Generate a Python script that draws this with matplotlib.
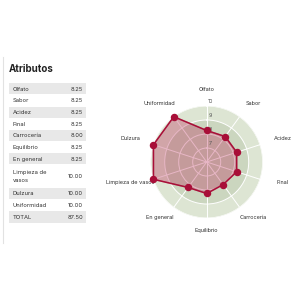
import numpy as np
import matplotlib.pyplot as plt
from matplotlib.patches import Rectangle

plt.rcParams['font.family'] = ['Inter', 'DejaVu Sans']

# Cupping scores (one per attribute, clockwise from the top of the radar)
attributes = ['Olfato', 'Sabor', 'Acidez', 'Final', 'Carrocería', 'Equilibrio',
              'En general', 'Limpieza de vasos', 'Dulzura', 'Uniformidad']
scores = [8.25, 8.25, 8.25, 8.25, 8.00, 8.25, 8.25, 10.00, 10.00, 10.00]

# Table on the left uses a wrapped label for one row
table_labels = ['Olfato', 'Sabor', 'Acidez', 'Final', 'Carrocería', 'Equilibrio',
                'En general', 'Limpieza de\nvasos', 'Dulzura', 'Uniformidad']
total_label = 'TOTAL'
total_score = 87.50

radial_ticks = [7, 8, 9, 10]
r_min, r_max = 6, 10

RED = '#a80f38'
TEXT = '#333333'

fig = plt.figure(figsize=(3, 3), dpi=100)

# ---- table (pixel coordinates, y pointing down) ----
tab = fig.add_axes([0, 0, 1, 1])
tab.set_xlim(0, 300)
tab.set_ylim(300, 0)
tab.axis('off')

tab.plot([2.7, 2.7], [57, 243], color='#e2e2e2', lw=0.8)
tab.text(8.3, 69.5, 'Atributos', fontsize=7.0, fontweight='bold',
         color='#222222', va='center', ha='left')

row_h = 11.65
y = 83.3
rows = list(zip(table_labels, [f'{s:.2f}' for s in scores])) + [(total_label, f'{total_score:.2f}')]
for i, (lab, val) in enumerate(rows):
    h = row_h * 2 if '\n' in lab else row_h
    if i % 2 == 0:
        tab.add_patch(Rectangle((8.7, y), 77.3, h - 0.6, facecolor='#e8e8e8',
                                edgecolor='none'))
    tab.text(12.7, y + h / 2, lab, fontsize=4.2, color=TEXT, va='center',
             ha='left', linespacing=1.6)
    tab.text(83, y + h / 2, val, fontsize=4.2, color=TEXT, va='center', ha='right')
    y += h

# ---- radar ----
cx, cy, rad = 206.7, 162, 56
ax = fig.add_axes([(cx - rad) / 300, (300 - cy - rad) / 300, 2 * rad / 300, 2 * rad / 300],
                  projection='polar')
ax.set_theta_offset(np.pi / 2)
ax.set_theta_direction(-1)
ax.set_ylim(r_min, r_max)
ax.set_facecolor('#dde5d3')
ax.spines['polar'].set_visible(False)
ax.set_axisbelow(True)

# darker inner disk
ax.bar(0, 9 - r_min, width=2 * np.pi, bottom=r_min, color='#cbd6bf',
       edgecolor='none', zorder=0.2)

angles = np.arange(len(attributes)) * 2 * np.pi / len(attributes)
ax.set_xticks(angles)
ax.set_xticklabels([])
ax.set_yticks(radial_ticks)
ax.set_yticklabels([])
ax.grid(True, color='white', lw=0.7)
ax.tick_params(length=0)

th = np.append(angles, angles[0])
vals = np.append(scores, scores[0])
ax.fill(th, vals, color='#b8204f', alpha=0.32, zorder=2)
ax.plot(th, vals, color=RED, lw=1.1, zorder=3)
ax.scatter(angles, scores, s=19, color=RED, zorder=4, clip_on=False)

for t in radial_ticks:
    ax.annotate(str(t), xy=(0, t), xytext=(4, 4), textcoords='offset pixels',
                fontsize=3.8, color='#555555', ha='center', va='center')

for a, lab in zip(angles, attributes):
    dx = 80 * np.sin(a)
    dy = 70.5 * np.cos(a) + 1.5
    ax.annotate(lab, xy=(0, r_min), xytext=(dx, dy), textcoords='offset pixels',
                fontsize=4.0, color=TEXT, ha='center', va='center',
                annotation_clip=False)

fig.savefig('out.png', dpi=100)
